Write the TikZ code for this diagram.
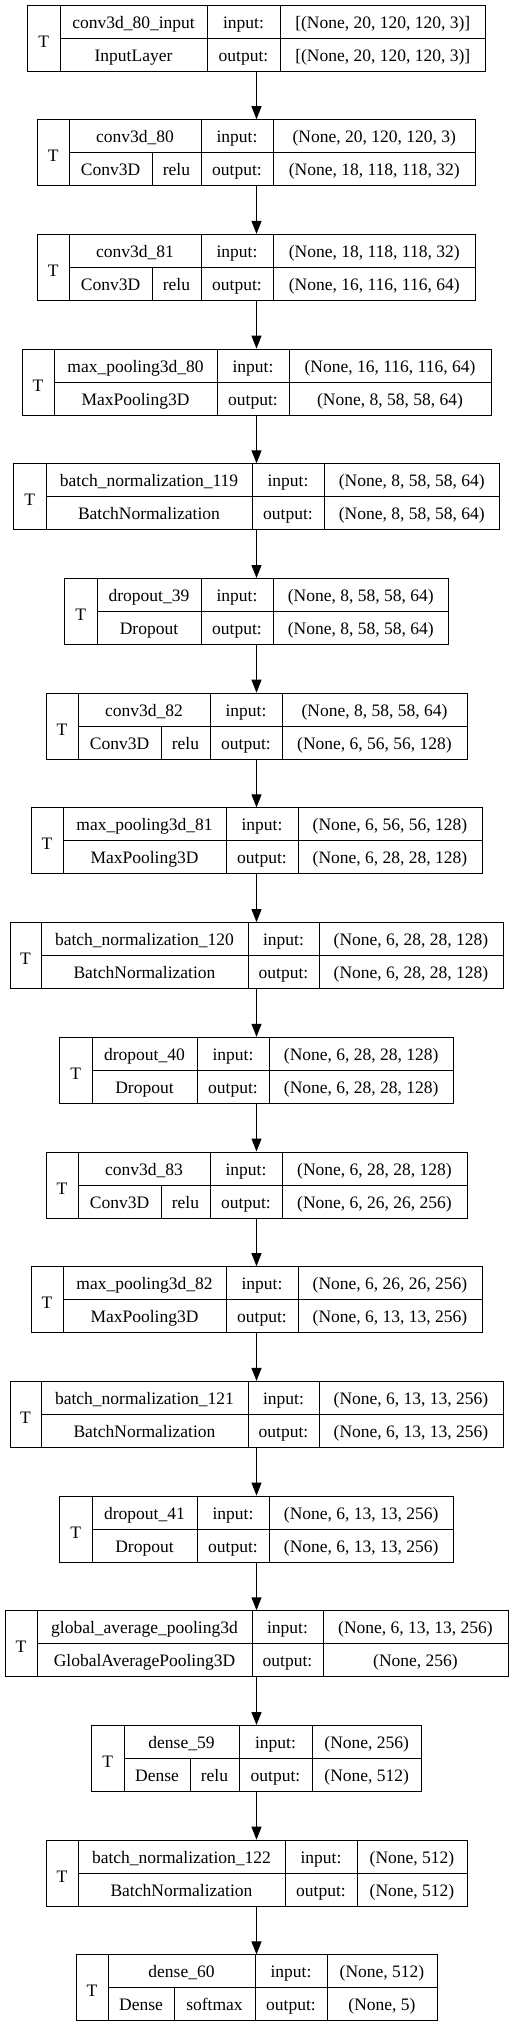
\documentclass[tikz,border=0pt]{standalone}
\usepackage{fontspec}
\setmainfont{Liberation Serif}
\usetikzlibrary{arrows.meta}

\begin{document}
\begin{tikzpicture}[x=1pt,y=-1pt,line width=1pt,
		txt/.style={anchor=base,inner sep=0pt,font=\fontsize{17.5}{21}\selectfont},
		layerbox/.style={draw,inner sep=0pt,minimum height=66pt}]
		\useasboundingbox (0,0) rectangle (513,2027);
		\foreach \ly/\w/\tx/\cx/\nx/\ax/\name/\cls/\act/\inp/\outp in {%
			0/458/60/0/207/280/conv3d\_80\_input/InputLayer//{[(None, 20, 120, 120, 3)]}/{[(None, 20, 120, 120, 3)]},
			1/438/69/152/201/273/conv3d\_80/Conv3D/relu/{(None, 20, 120, 120, 3)}/{(None, 18, 118, 118, 32)},
			2/438/69/152/201/273/conv3d\_81/Conv3D/relu/{(None, 18, 118, 118, 32)}/{(None, 16, 116, 116, 64)},
			3/469/54/0/217/289/max\_pooling3d\_80/MaxPooling3D//{(None, 16, 116, 116, 64)}/{(None, 8, 58, 58, 64)},
			4/486/46/0/252/324/batch\_normalization\_119/BatchNormalization//{(None, 8, 58, 58, 64)}/{(None, 8, 58, 58, 64)},
			5/384/97/0/201/273/dropout\_39/Dropout//{(None, 8, 58, 58, 64)}/{(None, 8, 58, 58, 64)},
			6/421/78/161/210/282/conv3d\_82/Conv3D/relu/{(None, 8, 58, 58, 64)}/{(None, 6, 56, 56, 128)},
			7/451/63/0/226/298/max\_pooling3d\_81/MaxPooling3D//{(None, 6, 56, 56, 128)}/{(None, 6, 28, 28, 128)},
			8/493/41/0/248/319/batch\_normalization\_120/BatchNormalization//{(None, 6, 28, 28, 128)}/{(None, 6, 28, 28, 128)},
			9/394/92/0/197/269/dropout\_40/Dropout//{(None, 6, 28, 28, 128)}/{(None, 6, 28, 28, 128)},
			10/421/78/161/210/282/conv3d\_83/Conv3D/relu/{(None, 6, 28, 28, 128)}/{(None, 6, 26, 26, 256)},
			11/451/63/0/226/298/max\_pooling3d\_82/MaxPooling3D//{(None, 6, 26, 26, 256)}/{(None, 6, 13, 13, 256)},
			12/493/41/0/248/319/batch\_normalization\_121/BatchNormalization//{(None, 6, 13, 13, 256)}/{(None, 6, 13, 13, 256)},
			13/394/92/0/197/269/dropout\_41/Dropout//{(None, 6, 13, 13, 256)}/{(None, 6, 13, 13, 256)},
			14/503/37/0/252/323/global\_average\_pooling3d/GlobalAveragePooling3D//{(None, 6, 13, 13, 256)}/{(None, 256)},
			15/330/124/190/239/312/dense\_59/Dense/relu/{(None, 256)}/{(None, 512)},
			16/421/78/0/285/357/batch\_normalization\_122/BatchNormalization//{(None, 512)}/{(None, 512)},
			17/361/108/174/255/327/dense\_60/Dense/softmax/{(None, 512)}/{(None, 5)}}{%
			\pgfmathsetmacro\top{5+114.7*\ly}
			\pgfmathsetmacro\lft{256.5-\w/2}
			\pgfmathsetmacro\rgt{256.5+\w/2}
			\node [layerbox,minimum width=\w pt] (box\ly) at (256.5,\top+33) {};
			\draw (\tx,\top) -- (\tx,\top+66);
			\draw (\nx,\top) -- (\nx,\top+66);
			\draw (\ax,\top) -- (\ax,\top+66);
			\draw (\tx,\top+33) -- (\rgt,\top+33);
			\node [txt] (T\ly)  at ({(\lft+\tx)/2},\top+42) {T};
			\node [txt] (nm\ly) at ({(\tx+\nx)/2},\top+23) {\name};
			\node [txt] (il\ly) at ({(\nx+\ax)/2},\top+23) {input:};
			\node [txt] (ol\ly) at ({(\nx+\ax)/2},\top+56) {output:};
			\node [txt] (iv\ly) at ({(\ax+\rgt)/2},\top+23) {\inp};
			\node [txt] (ov\ly) at ({(\ax+\rgt)/2},\top+56) {\outp};
			\ifnum\cx>0
				\draw (\cx,\top+33) -- (\cx,\top+66);
				\node [txt] (cl\ly) at ({(\tx+\cx)/2},\top+56) {\cls};
				\node [txt] (ac\ly) at ({(\cx+\nx)/2},\top+56) {\act};
			\else
				\node [txt] (cl\ly) at ({(\tx+\nx)/2},\top+56) {\cls};
			\fi
			}
		\foreach \ly [evaluate=\ly as \nxt using int(\ly+1)] in {0,...,16}
			\draw [-{Triangle[length=13pt,width=10pt]}] (box\ly) -- (box\nxt);
	\end{tikzpicture}
\end{document}
